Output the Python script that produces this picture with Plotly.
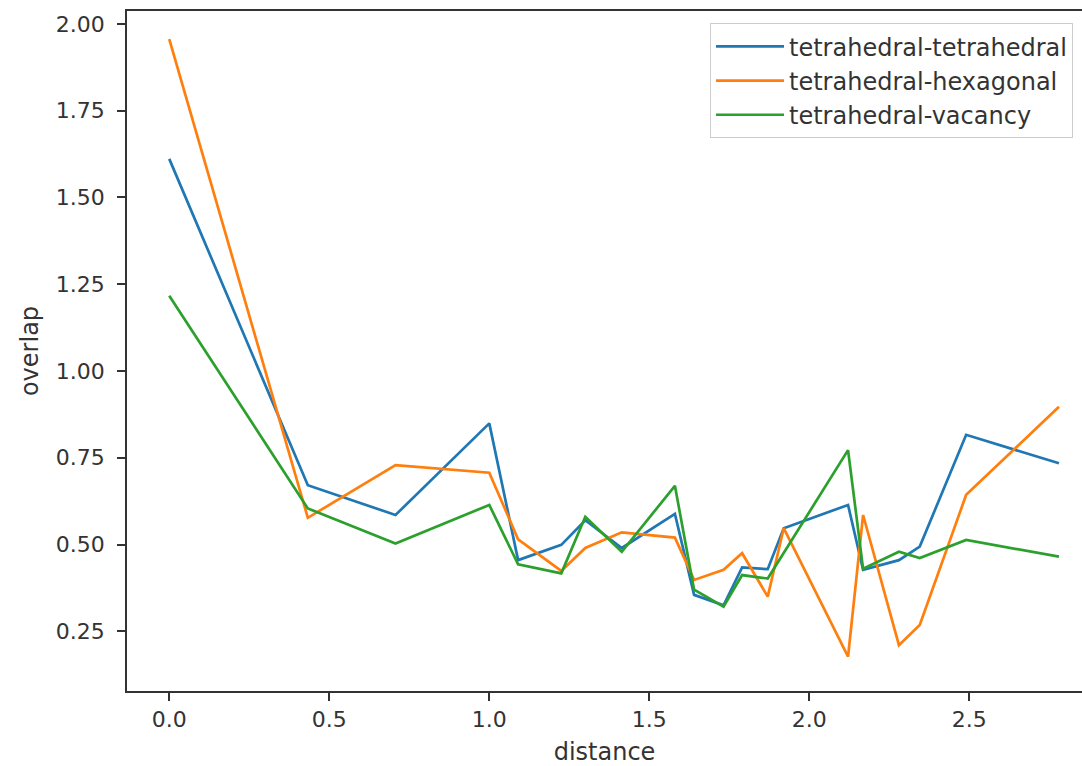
import plotly.graph_objects as go

distance = [0.0, 0.433, 0.707, 1.0, 1.09, 1.225, 1.30, 1.414, 1.58, 1.64,
            1.732, 1.79, 1.87, 1.92, 2.121, 2.168, 2.28, 2.345, 2.49, 2.78]

tet_tet = [1.611, 0.671, 0.585, 0.849, 0.455, 0.499, 0.570, 0.490, 0.588, 0.355,
           0.325, 0.434, 0.429, 0.547, 0.614, 0.427, 0.455, 0.494, 0.816, 0.734]
tet_hex = [1.956, 0.577, 0.729, 0.707, 0.515, 0.424, 0.490, 0.535, 0.520, 0.398,
           0.427, 0.475, 0.350, 0.547, 0.177, 0.585, 0.210, 0.268, 0.643, 0.897]
tet_vac = [1.217, 0.604, 0.503, 0.614, 0.443, 0.417, 0.580, 0.479, 0.669, 0.370,
           0.321, 0.412, 0.402, 0.476, 0.772, 0.430, 0.479, 0.461, 0.513, 0.465]

series_names = ["tetrahedral-tetrahedral", "tetrahedral-hexagonal", "tetrahedral-vacancy"]
series_values = [tet_tet, tet_hex, tet_vac]
colors = ["#1f77b4", "#ff7f0e", "#2ca02c"]

FONT = "DejaVu Sans"
TXT = "#333333"

fig = go.Figure()
for i, (name, vals, col) in enumerate(zip(series_names, series_values, colors)):
    fig.add_trace(go.Scatter(
        x=distance, y=vals, mode="lines", name=name,
        line=dict(color=col, width=2.7), legendgroup=f"g{i}",
    ))

fig.update_layout(
    width=1082, height=766,
    margin=dict(l=127, r=0, t=11, b=75),
    paper_bgcolor="white", plot_bgcolor="white",
    font=dict(family=FONT, size=22, color=TXT),
    showlegend=True,
    legend=dict(
        x=0.6105, y=0.982, xanchor="left", yanchor="top",
        bgcolor="white", bordercolor="#cccccc", borderwidth=1,
        font=dict(family=FONT, size=24, color=TXT),
        tracegroupgap=10, traceorder="normal", itemwidth=68,
    ),
)

fig.update_xaxes(
    range=[-0.132, 2.852], tickmode="linear", tick0=0, dtick=0.5, tickformat=".1f",
    showgrid=False, zeroline=False, showline=True, linecolor="#333333", linewidth=1.5,
    mirror=True, ticks="outside", ticklen=8, tickcolor="#333333", tickwidth=1.5,
    title=dict(text="distance", standoff=13, font=dict(family=FONT, size=24, color=TXT)),
    tickfont=dict(family=FONT, size=22, color=TXT),
)
fig.update_yaxes(
    range=[0.078, 2.037], tickmode="linear", tick0=0, dtick=0.25, tickformat=".2f",
    showgrid=False, zeroline=False, showline=True, linecolor="#333333", linewidth=1.5,
    mirror=False, ticks="outside", ticklen=8, tickcolor="#333333", tickwidth=1.5,
    ticklabelstandoff=8,
    title=dict(text="overlap", standoff=10, font=dict(family=FONT, size=24, color=TXT)),
    tickfont=dict(family=FONT, size=22, color=TXT),
)

fig.write_html("out.html")
